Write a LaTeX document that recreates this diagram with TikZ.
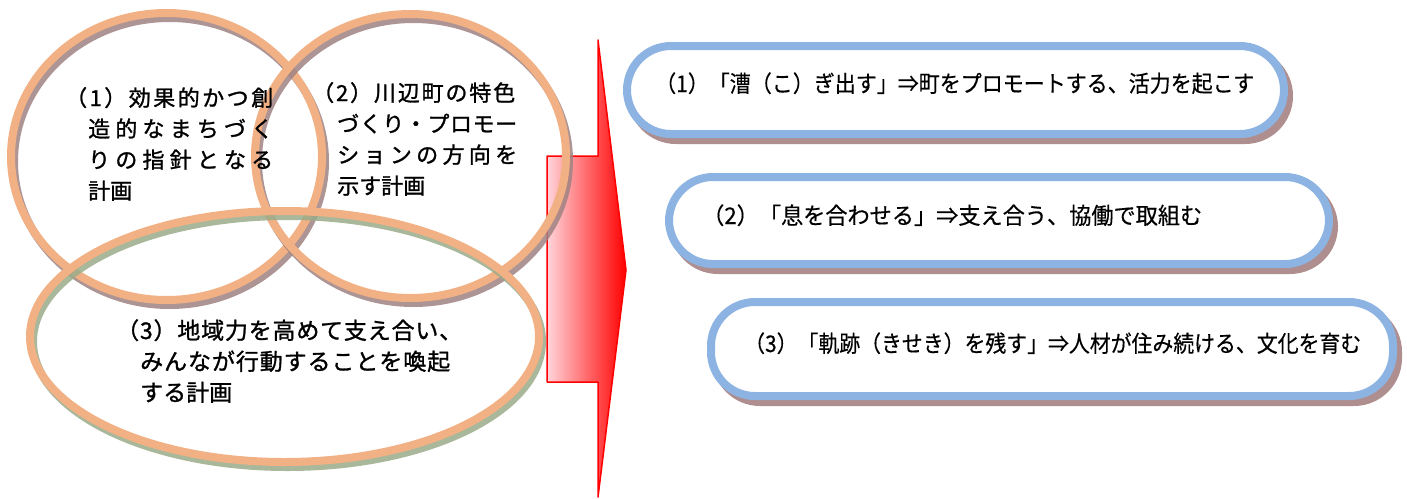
\documentclass[tikz,border=0pt]{standalone}
\usepackage{fontspec}
\usepackage{graphicx}
\newfontfamily\jp[FakeBold=0.4]{Noto Sans CJK JP}
\newfontfamily\jpb[FakeBold=1.2]{Noto Sans CJK JP}
\makeatletter
\newcommand\jl[2]{\makebox[#1][s]{\@tfor\jc:=#2\do{\jc\hfil}\unskip}}
\makeatother
\definecolor{ring}{HTML}{F2B184}
\definecolor{ringsh}{HTML}{A08282}
\definecolor{ellsh}{HTML}{9AAA88}
\definecolor{bluering}{HTML}{8DB3E2}
\definecolor{boxsh}{HTML}{AE8E8E}
\definecolor{arrowpink}{HTML}{FFD5DA}
\tikzset{
  ringline/.style={draw=ring, line width=8pt},
  ringshadow/.style={draw=#1, line width=8pt, opacity=.85},
  bluebox/.style={draw=bluering, fill=white, line width=8pt, rounded corners=44pt},
  boxshadow/.style={draw=boxsh, fill=boxsh, line width=8pt, rounded corners=44pt},
  ctext/.style={inner sep=0pt, align=left, anchor=base west, font=\jpb\fontsize{22pt}{31pt}\selectfont},
  ctextb/.style={inner sep=0pt, align=left, anchor=base west, font=\jpb\fontsize{23pt}{31pt}\selectfont},
  btext/.style={inner sep=0pt, anchor=base west, font=\jp\fontsize{23pt}{28pt}\selectfont},
}
\begin{document}
\begin{tikzpicture}[x=1pt,y=-1pt, line join=round]
\useasboundingbox (0,0) rectangle (1407,498);
% block arrow
\draw[red, line width=1.5pt, left color=arrowpink, right color=red]
  (547,156) -- (598,156) -- (598,40) -- (626,270) -- (598,497) -- (598,382) -- (547,382) -- cycle;
% circles
\draw[ringshadow=ringsh] (169.5,161.5) ellipse [x radius=155.5pt, y radius=143.5pt];
\draw[ringline] (166.5,156.5) ellipse [x radius=155.5pt, y radius=143.5pt];
\draw[ringshadow=ringsh] (413.5,161) ellipse [x radius=155.5pt, y radius=142pt];
\draw[ringline] (410.5,156) ellipse [x radius=155.5pt, y radius=142pt];
\draw[ringshadow=ellsh] (287.5,341.5) ellipse [x radius=254.5pt, y radius=125.5pt];
\draw[ringline] (284.5,336.5) ellipse [x radius=254.5pt, y radius=125.5pt];
% circle texts (anchor = baseline of last line)
\node[ctext] (t1) at (88,199) {\hspace*{-23pt}\jl{208pt}{（1）効果的かつ創}\\\jl{185pt}{造的なまちづく}\\\jl{185pt}{りの指針となる}\\計画};
\node[ctext] (t2) at (337,194) {\hspace*{-25pt}\jl{203pt}{（2）川辺町の特色}\\\jl{180pt}{づくり・プロモー}\\\jl{180pt}{ションの方向を}\\示す計画};
\node[ctextb] (t3) at (140,401) {\hspace*{-24pt}\jl{346pt}{（3）地域力を高めて支え合い、}\\\jl{310pt}{みんなが行動することを喚起}\\する計画};
% rounded boxes
\draw[boxshadow] (632,52) rectangle (1289,140);
\draw[bluebox] (627,46) rectangle (1284,134);
\draw[boxshadow] (674,183) rectangle (1334,270);
\draw[bluebox] (669,177) rectangle (1329,264);
\draw[boxshadow] (716,308) rectangle (1398,402);
\draw[bluebox] (711,302) rectangle (1393,396);
\node[btext] (b1) at (655,92) {\resizebox{599pt}{\height}{（1）「漕（こ）ぎ出す」⇒町をプロモートする、活力を起こす}};
\node[btext] (b2) at (702,224) {\resizebox{500pt}{\height}{（2）「息を合わせる」⇒支え合う、協働で取組む}};
\node[btext] (b3) at (744,352) {\resizebox{617pt}{\height}{（3）「軌跡（きせき）を残す」⇒人材が住み続ける、文化を育む}};
\end{tikzpicture}
\end{document}
